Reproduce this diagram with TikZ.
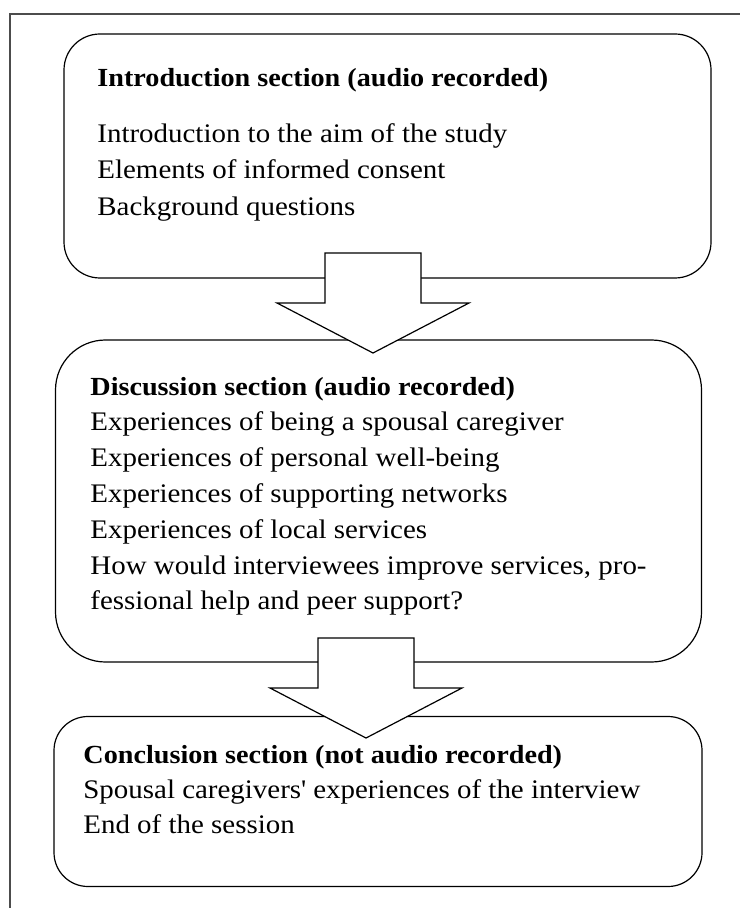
\documentclass[tikz,border=0pt]{standalone}
\usepackage{fontspec}
\setmainfont[FakeStretch=1.08]{Liberation Serif}
\usepackage{tikz}
\usetikzlibrary{positioning}

\tikzset{
  frame/.style={line width=0.8pt,color=black!70},
  sectionbox/.style={draw,line width=0.6pt,inner sep=0pt},
  blockarrow/.style={draw,fill=white,line width=0.6pt,line join=miter},
  item/.style={inner sep=0pt,anchor=base west,font=\fontsize{13.4}{15}\selectfont},
  heading/.style={item,font=\fontsize{13.05}{15}\selectfont\bfseries}
}

\begin{document}
\begin{tikzpicture}[x=0.5pt,y=-0.5pt]
\useasboundingbox (0,0) rectangle (740,908);

\draw[frame] (10,908) -- (10,14) -- (740,14);

% the three sections
\node[sectionbox,rounded corners=18pt,minimum width=323.5pt,minimum height=122pt] (intro) at (387.5,156) {};
\node[sectionbox,rounded corners=25pt,minimum width=323pt,minimum height=161pt] (disc) at (378.5,501) {};
\node[sectionbox,rounded corners=17pt,minimum width=324pt,minimum height=85pt] (concl) at (378,801.5) {};

\node[heading] (introhead) at (97,87) {Introduction section (audio recorded)};
\foreach \t [count=\i] in {Introduction to the aim of the study,Elements of informed consent,Background questions}
{
\node[item] (introline\i) at (97,{106+36.5*\i}) {\t};
}

\node[heading] (dischead) at (90,395) {Discussion section (audio recorded)};
\foreach \t [count=\i] in {Experiences of being a spousal caregiver,Experiences of personal well-being,Experiences of supporting networks,Experiences of local services,{How would interviewees improve services, pro-},fessional help and peer support?}
{
\node[item] (discline\i) at (90,{395+35.8*\i}) {\t};
}

\node[heading] (conclhead) at (83,763) {Conclusion section (not audio recorded)};
\foreach \t [count=\i] in {Spousal caregivers\textquotesingle{} experiences of the interview,End of the session}
{
\node[item] (conclline\i) at (83,{763+35*\i}) {\t};
}

% block arrows between the sections
\coordinate (tip1) at (373,353);
\coordinate (tip2) at (366,738);
\foreach \n in {1,2}
{
\draw[blockarrow] (tip\n) -- ++(96,-50) -- ++(-48,0) -- ++(0,-50) -- ++(-96,0) -- ++(0,50) -- ++(-48,0) -- cycle;
}
\end{tikzpicture}
\end{document}
